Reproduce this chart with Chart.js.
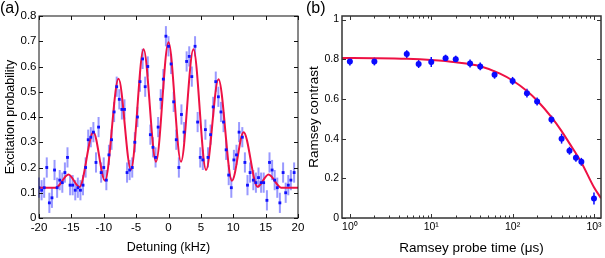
<!DOCTYPE html>
<html>
<head>
<meta charset="utf-8">
<script src="https://cdn.jsdelivr.net/npm/chart.js@4.4.1/dist/chart.umd.min.js"></script>
<style>
  html, body { margin: 0; padding: 0; background: #fff; }
  body { width: 605px; height: 258px; position: relative; overflow: hidden; font-family: "Liberation Sans", Arial, sans-serif; }
  .wrap { position: absolute; top: 0; height: 258px; }
  #wrapA { left: 0; width: 310px; }
  #wrapB { left: 300px; width: 305px; }
  .tag { position: absolute; top: -1px; font-size: 16px; color: #000; }
</style>
</head>
<body>
<div class="wrap" id="wrapA"><canvas id="chartA"></canvas></div>
<div class="wrap" id="wrapB"><canvas id="chartB"></canvas></div>
<div class="tag" style="left:0px">(a)</div>
<div class="tag" style="left:306px">(b)</div>
<script>
// panel (a): excitation spectrum
const detuning = [
  -20.0, -19.6, -19.2, -18.8, -18.4, -18.0, -17.6, -17.2, -16.8, -16.4,
  -16.0, -15.6, -15.2, -14.8, -14.4, -14.0, -13.6, -13.2, -12.8, -12.4,
  -12.0, -11.6, -11.2, -10.8, -10.4, -10.0, -9.6, -9.2, -8.8, -8.4,
  -8.0, -7.6, -7.2, -6.8, -6.4, -6.0, -5.6, -5.2, -4.8, -4.4,
  -4.0, -3.6, -3.2, -2.8, -2.4, -2.0, -1.6, -1.2, -0.8, -0.4,
  0.0, 0.4, 0.8, 1.2, 1.6, 2.0, 2.4, 2.8, 3.2, 3.6,
  4.1, 4.5, 4.9, 5.3, 5.7, 6.1, 6.5, 6.9, 7.3, 7.7,
  8.1, 8.5, 8.9, 9.3, 9.7, 10.1, 10.5, 10.9, 11.4, 11.8,
  12.2, 12.6, 13.1, 13.5, 13.9, 14.3, 14.7, 15.2, 15.6, 16.0,
  16.4, 16.8, 17.2, 17.7, 18.1, 18.5, 18.9, 19.4
];
const excitation = [
  0.12, 0.11, 0.12, 0.20, 0.06, 0.08, 0.19, 0.12, 0.15, 0.14,
  0.18, 0.24, 0.13, 0.13, 0.11, 0.12, 0.11, 0.13, 0.20, 0.31,
  0.32, 0.34, 0.22, 0.36, 0.18, 0.20, 0.15, 0.25, 0.31, 0.42,
  0.52, 0.47, 0.43, 0.43, 0.18, 0.19, 0.20, 0.30, 0.40, 0.54,
  0.63, 0.52, 0.60, 0.33, 0.28, 0.24, 0.36, 0.47, 0.55, 0.72,
  0.68, 0.61, 0.46, 0.31, 0.20, 0.41, 0.34, 0.62, 0.64, 0.56,
  0.68, 0.38, 0.24, 0.23, 0.35, 0.24, 0.33, 0.44, 0.54, 0.48,
  0.42, 0.38, 0.27, 0.17, 0.12, 0.23, 0.25, 0.34, 0.32, 0.22,
  0.13, 0.18, 0.15, 0.14, 0.16, 0.14, 0.14, 0.07, 0.22, 0.19,
  0.15, 0.12, 0.06, 0.18, 0.10, 0.13, 0.15, 0.18
];
const excitationErr = 0.04;
const fitDetuning = [-20, -17.4, -15.45, -13.75, -11.6, -9.8, -7.72, -5.8, -3.85, -1.93,
  0, 1.93, 3.85, 5.8, 7.72, 9.8, 11.6, 13.75, 15.45, 17.4, 20];
const fitExcitation = [0.12, 0.12, 0.172, 0.123, 0.34, 0.148, 0.551, 0.191, 0.668, 0.223,
  0.696, 0.223, 0.668, 0.19, 0.55, 0.148, 0.34, 0.124, 0.172, 0.12, 0.12];
const detuningTicks = [-20, -15, -10, -5, 0, 5, 10, 15, 20];
const excitationTicks = [0, 0.1, 0.2, 0.3, 0.4, 0.5, 0.6, 0.7, 0.8];

// panel (b): Ramsey contrast
const probeTime = [1, 2, 5, 7, 10, 15, 20, 30, 40, 60, 100, 150, 200, 300, 400, 500, 600, 700, 1000];
const contrast = [0.789, 0.789, 0.826, 0.776, 0.786, 0.805, 0.800, 0.779, 0.764, 0.722,
  0.691, 0.629, 0.587, 0.496, 0.400, 0.339, 0.304, 0.283, 0.098];
const contrastErr = [0.02, 0.02, 0.02, 0.02, 0.025, 0.018, 0.018, 0.02, 0.02, 0.02,
  0.02, 0.022, 0.02, 0.02, 0.025, 0.02, 0.02, 0.02, 0.03];
const fitTime = [0.8, 2, 5, 10, 20, 40, 70, 100, 150, 200, 300, 400, 500, 700, 1000, 1220];
const fitContrast = [0.806, 0.805, 0.802, 0.796, 0.785, 0.765, 0.728, 0.693, 0.640, 0.592,
  0.508, 0.438, 0.376, 0.280, 0.155, 0.100];
const timeTicks = [1, 10, 100, 1000];
const timeTickLabels = ['10\u2070', '10\u00b9', '10\u00b2', '10\u00b3'];
const timeMinorTicks = [2, 3, 4, 5, 6, 7, 8, 9, 20, 30, 40, 50, 60, 70, 80, 90,
  200, 300, 400, 500, 600, 700, 800, 900];
const contrastTicks = [0, 0.2, 0.4, 0.6, 0.8, 1];

const red = '#ee1144';
const fontFamily = '"Liberation Sans", Arial, sans-serif';

function errorBars(errors, color, width) {
  return {
    id: 'errorBars',
    beforeDatasetsDraw(chart) {
      const meta = chart.getDatasetMeta(0);
      const ds = chart.data.datasets[0];
      const y = chart.scales.y;
      const ctx = chart.ctx;
      ctx.save();
      ctx.strokeStyle = color;
      ctx.lineWidth = width;
      meta.data.forEach((pt, i) => {
        const v = ds.data[i].y;
        const e = Array.isArray(errors) ? errors[i] : errors;
        ctx.beginPath();
        ctx.moveTo(pt.x, y.getPixelForValue(v - e));
        ctx.lineTo(pt.x, y.getPixelForValue(v + e));
        ctx.stroke();
      });
      ctx.restore();
    }
  };
}

// box round the plot with inward tick marks
function frameTicks(xMajor, xMinor, yMajor, color, width, majorLen, minorLen) {
  return {
    id: 'frameTicks',
    afterDatasetsDraw(chart) {
      const { ctx, chartArea: a, scales: { x, y } } = chart;
      ctx.save();
      ctx.strokeStyle = color;
      ctx.lineWidth = width;
      ctx.strokeRect(a.left, a.top, a.right - a.left, a.bottom - a.top);
      ctx.lineWidth = 1;
      ctx.beginPath();
      const xt = (list, len) => list.forEach(v => {
        const px = Math.round(x.getPixelForValue(v)) + 0.5;
        ctx.moveTo(px, a.bottom); ctx.lineTo(px, a.bottom - len);
        ctx.moveTo(px, a.top); ctx.lineTo(px, a.top + len);
      });
      xt(xMajor, majorLen);
      xt(xMinor, minorLen);
      yMajor.forEach(v => {
        const py = Math.round(y.getPixelForValue(v)) + 0.5;
        ctx.moveTo(a.left, py); ctx.lineTo(a.left + majorLen, py);
        ctx.moveTo(a.right, py); ctx.lineTo(a.right - majorLen, py);
      });
      ctx.stroke();
      ctx.restore();
    }
  };
}

new Chart(document.getElementById('chartA'), {
  type: 'scatter',
  data: {
    datasets: [
      {
        data: detuning.map((d, i) => ({ x: d, y: excitation[i] })),
        pointStyle: 'rect',
        pointRadius: 2,
        backgroundColor: '#1010ff',
        borderWidth: 0,
        order: 0
      },
      {
        data: fitDetuning.map((d, i) => ({ x: d, y: fitExcitation[i] })),
        showLine: true,
        borderColor: red,
        borderWidth: 2,
        pointRadius: 0,
        cubicInterpolationMode: 'monotone',
        order: 1
      }
    ]
  },
  options: {
    responsive: true,
    maintainAspectRatio: false,
    animation: false,
    layout: { padding: { top: 16, right: 12, left: 0, bottom: 0 } },
    plugins: { legend: { display: false }, tooltip: { enabled: false } },
    scales: {
      x: {
        type: 'linear', min: -20, max: 20,
        grid: { display: false, drawTicks: false },
        border: { display: false },
        afterBuildTicks: s => { s.ticks = detuningTicks.map(v => ({ value: v })); },
        afterFit: s => { s.height = 40; s.paddingLeft = 0; s.paddingRight = 0; },
        ticks: { padding: 3, color: '#000', maxRotation: 0, autoSkip: false,
          font: { family: fontFamily, size: 11.5 }, callback: v => String(v) },
        title: { display: true, text: 'Detuning (kHz)', color: '#000',
          font: { family: fontFamily, size: 12.5 }, padding: { top: 0, bottom: 2.5 } }
      },
      y: {
        min: 0, max: 0.8,
        grid: { display: false, drawTicks: false },
        border: { display: false },
        afterBuildTicks: s => { s.ticks = excitationTicks.map(v => ({ value: v })); },
        afterFit: s => { s.width = 39; s.paddingTop = 0; s.paddingBottom = 0; },
        ticks: { padding: 2.5, color: '#000', autoSkip: false,
          font: { family: fontFamily, size: 11.5 }, callback: v => String(v) },
        title: { display: true, text: 'Excitation probability', color: '#000',
          font: { family: fontFamily, size: 12.5 }, padding: { top: 3, bottom: 0 } }
      }
    }
  },
  plugins: [
    errorBars(excitationErr, 'rgba(70,70,255,0.55)', 2),
    frameTicks(detuningTicks, [], excitationTicks, '#111', 1, 4, 0)
  ]
});

new Chart(document.getElementById('chartB'), {
  type: 'scatter',
  data: {
    datasets: [
      {
        data: probeTime.map((t, i) => ({ x: t, y: contrast[i] })),
        pointStyle: 'circle',
        pointRadius: 3,
        backgroundColor: '#0a0aff',
        borderWidth: 0,
        order: 0
      },
      {
        data: fitTime.map((t, i) => ({ x: t, y: fitContrast[i] })),
        showLine: true,
        borderColor: red,
        borderWidth: 2,
        pointRadius: 0,
        cubicInterpolationMode: 'monotone',
        order: 1
      }
    ]
  },
  options: {
    responsive: true,
    maintainAspectRatio: false,
    animation: false,
    layout: { padding: { top: 16, right: 2, left: 0, bottom: 0 } },
    plugins: { legend: { display: false }, tooltip: { enabled: false } },
    scales: {
      x: {
        type: 'logarithmic', min: 0.8, max: 1220,
        grid: { display: false, drawTicks: false },
        border: { display: false },
        afterBuildTicks: s => { s.ticks = timeTicks.map(v => ({ value: v })); },
        afterFit: s => { s.height = 40; s.paddingLeft = 0; s.paddingRight = 0; },
        ticks: { padding: 3, color: '#000', maxRotation: 0, autoSkip: false,
          font: { family: fontFamily, size: 10.5 }, callback: (v, i) => timeTickLabels[i] },
        title: { display: true, text: 'Ramsey probe time (\u03bcs)', color: '#000',
          font: { family: fontFamily, size: 13.5 }, padding: { top: 0, bottom: 1.6 } }
      },
      y: {
        min: 0, max: 1.018,
        grid: { display: false, drawTicks: false },
        border: { display: false },
        afterBuildTicks: s => { s.ticks = contrastTicks.map(v => ({ value: v })); },
        afterFit: s => { s.width = 42; s.paddingTop = 0; s.paddingBottom = 0; },
        ticks: { padding: 3, color: '#000', autoSkip: false,
          font: { family: fontFamily, size: 10.5 }, callback: v => String(v) },
        title: { display: true, text: 'Ramsey contrast', color: '#000',
          font: { family: fontFamily, size: 13.5 }, padding: { top: 6.6, bottom: 0 } }
      }
    }
  },
  plugins: [
    errorBars(contrastErr, '#0a0aff', 1.5),
    frameTicks(timeTicks, timeMinorTicks, contrastTicks, '#333', 1.5, 4, 2.5)
  ]
});
</script>
</body>
</html>
